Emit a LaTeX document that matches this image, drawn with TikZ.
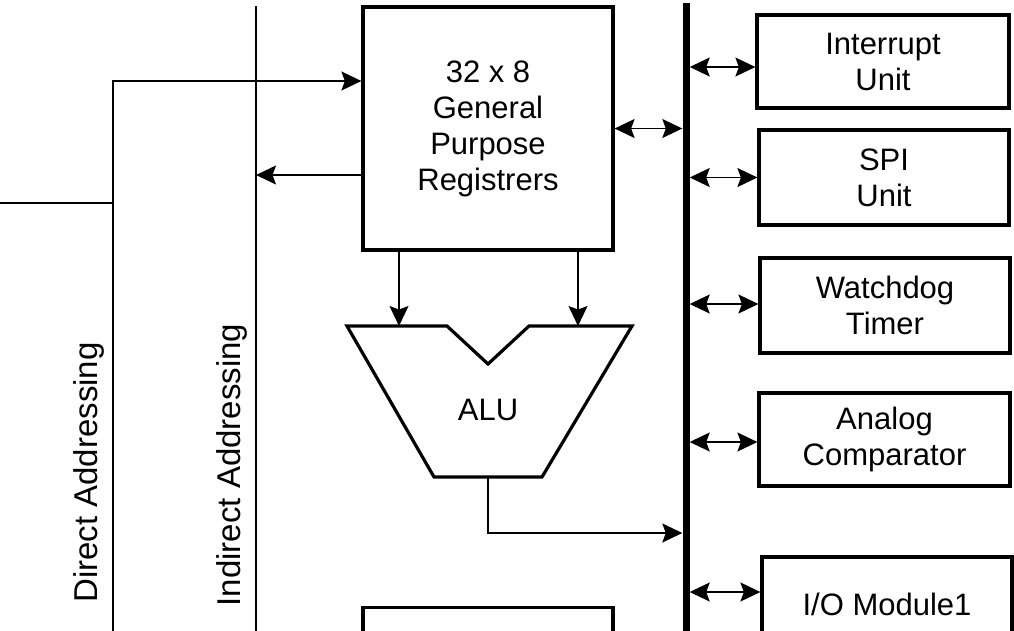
\documentclass[tikz,border=0pt]{standalone}
\usepackage{fontspec}
\setmainfont{Liberation Sans}
\usetikzlibrary{arrows.meta}

\tikzset{
  blk/.style={draw, line width=3.2pt, inner sep=0pt, align=center,
    minimum width=250pt, minimum height=95pt},
  ln/.style={line width=1.6pt},
  tip/.style={ln, -{Stealth[length=20pt,width=19pt,inset=3.5pt]}},
  dtip/.style={ln, {Stealth[length=20pt,width=19pt,inset=3.5pt]}-{Stealth[length=20pt,width=19pt,inset=3.5pt]}},
  vlabel/.style={rotate=90, font=\fontsize{33}{38}\selectfont},
}

\begin{document}
\begin{tikzpicture}[x=1pt,y=-1pt,font=\fontsize{31}{36}\selectfont]
  \clip (0,0) rectangle (1014,630);

  % register file, ALU and data bus
  \node[blk,minimum height=243pt] (reg) at (488,128.5) {32 x 8\\General\\Purpose\\Registrers};
  \node[blk] (low) at (488,655) {};
  \node[fill,inner sep=0pt,minimum width=7pt,minimum height=640pt] (bus) at (686,323) {};

  \coordinate (ina) at (399,326);
  \coordinate (inb) at (578,326);
  \coordinate (aluout) at (488,477);
  \draw[line width=3.2pt] (347,326) -- (447,326) -- (488,364) -- (529,326) -- (632,326)
    -- (542,477) -- (434,477) -- cycle;
  \node (alu) at (488,410) {ALU};

  \draw[tip] (reg.south -| ina) -- (ina);
  \draw[tip] (reg.south -| inb) -- (inb);
  \draw[tip] (aluout) -- (488,533) -- (bus.west |- 0,533);
  \draw[dtip] (reg.east) -- (reg.east -| bus.west);

  % addressing paths
  \draw[ln] (0,203) -- (113,203);
  \draw[tip] (113,640) -- (113,81) -- (reg.west |- 0,81);
  \draw[ln] (256,6) -- (256,640);
  \draw[tip] (reg.west |- 0,175) -- (256,175);
  \node[vlabel] (direct) at (89,472.5) {Direct Addressing};
  \node[vlabel] (indirect) at (232,465) {Indirect Addressing};

  % peripherals
  \node[blk,minimum width=252pt,minimum height=93pt] (intr) at (883,61.5) {Interrupt\\Unit};
  \node[blk] (spi) at (884,177.5) {SPI\\Unit};
  \node[blk] (wdt) at (885,305.5) {Watchdog\\Timer};
  \node[blk,minimum width=251pt,minimum height=93pt] (acomp) at (884.5,439.5) {Analog\\Comparator};
  \node[blk] (io) at (887,604.5) {I/O Module1};

  \draw[dtip] (bus.east |- 0,67) -- (intr.west |- 0,67);
  \draw[dtip] (bus.east |- spi.west) -- (spi.west);
  \draw[dtip] (bus.east |- 0,304) -- (wdt.west |- 0,304);
  \draw[dtip] (bus.east |- 0,442) -- (acomp.west |- 0,442);
  \draw[dtip] (bus.east |- 0,592) -- (io.west |- 0,592);
\end{tikzpicture}
\end{document}
